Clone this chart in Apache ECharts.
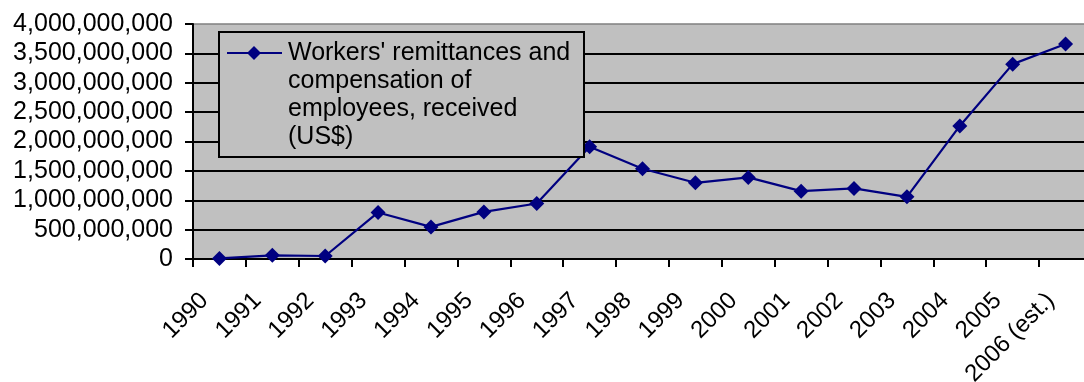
<!DOCTYPE html>
<html>
<head>
<meta charset="utf-8">
<script src="https://cdn.jsdelivr.net/npm/echarts@6/dist/echarts.min.js"></script>
<style>
  html, body { margin: 0; padding: 0; background: #ffffff; }
  #chart { width: 1084px; height: 382px; }
</style>
</head>
<body>
<div id="chart"></div>
<script>
// Remittance series, 1990 to 2006 (estimate)
const years = ['1990', '1991', '1992', '1993', '1994', '1995', '1996', '1997', '1998',
  '1999', '2000', '2001', '2002', '2003', '2004', '2005', '2006 (est.)'];
const remittances = [10000000, 63000000, 51000000, 792000000, 546000000, 802000000,
  945000000, 1911000000, 1536000000, 1297000000, 1389000000, 1155000000, 1201000000,
  1058000000, 2265000000, 3317000000, 3659000000];
const seriesName = "Workers' remittances and\ncompensation of\nemployees, received\n(US$)";

const FONT = '"Liberation Sans", Arial, sans-serif';
const NAVY = '#000080';

const chart = echarts.init(document.getElementById('chart'), null, { renderer: 'canvas' });

chart.setOption({
  animation: false,
  backgroundColor: '#ffffff',
  grid: {
    left: 193, right: -8, top: 24, bottom: 123,
    outerBoundsMode: 'none',
    containLabel: false,
    show: true,
    backgroundColor: '#C0C0C0',
    borderColor: '#808080',
    borderWidth: 1.5
  },
  xAxis: {
    type: 'category',
    data: years,
    boundaryGap: true,
    axisLine: { lineStyle: { color: '#000', width: 2 } },
    axisTick: { show: true, length: 8, lineStyle: { color: '#000', width: 2 } },
    axisLabel: {
      interval: 0,
      rotate: 45,
      margin: 23,
      padding: [0, 21, 0, 0],
      color: '#000',
      fontFamily: FONT,
      fontSize: 24
    },
    splitLine: { show: false }
  },
  yAxis: {
    type: 'value',
    min: 0,
    max: 4000000000,
    interval: 500000000,
    axisLine: { show: true, lineStyle: { color: '#000', width: 2 } },
    axisTick: { show: true, length: 8, lineStyle: { color: '#000', width: 2 } },
    axisLabel: {
      margin: 20,
      color: '#000',
      fontFamily: FONT,
      fontSize: 25,
      formatter: v => v.toLocaleString('en-US')
    },
    splitLine: {
      show: true,
      showMinLine: false,
      showMaxLine: false,
      lineStyle: { color: '#000', width: 2 }
    }
  },
  series: [{
    name: seriesName,
    type: 'line',
    data: remittances,
    symbol: 'diamond',
    symbolSize: 15,
    itemStyle: { color: NAVY },
    lineStyle: { color: NAVY, width: 2.2 },
    z: 5
  }],
  // Legend box drawn above the plot area, on its own layer
  graphic: [{
    type: 'group',
    left: 218,
    top: 31,
    zlevel: 1,
    z: 100,
    children: [
      {
        type: 'rect',
        z: 100,
        shape: { x: 0, y: 0, width: 365, height: 125 },
        style: { fill: '#C0C0C0', stroke: '#000', lineWidth: 2 }
      },
      {
        type: 'line',
        z: 101,
        shape: { x1: 8, y1: 21, x2: 63, y2: 21 },
        style: { stroke: NAVY, lineWidth: 2 }
      },
      {
        type: 'polygon',
        z: 102,
        shape: { points: [[35, 14], [42, 21], [35, 28], [28, 21]] },
        style: { fill: NAVY }
      },
      {
        type: 'text',
        z: 102,
        x: 69,
        y: 7,
        style: {
          text: seriesName,
          fill: '#000',
          font: '25px ' + FONT,
          lineHeight: 28,
          verticalAlign: 'top',
          align: 'left'
        }
      }
    ]
  }]
});
</script>
</body>
</html>
